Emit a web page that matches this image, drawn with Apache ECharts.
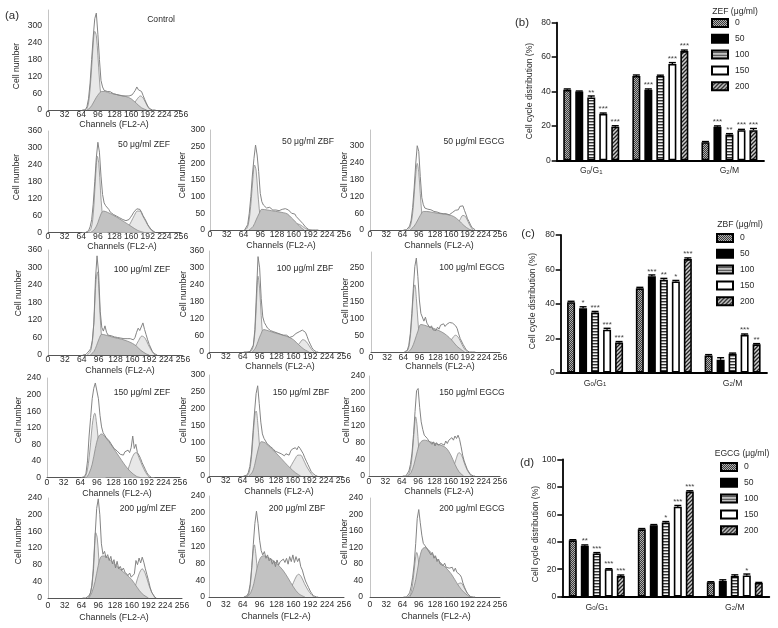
<!DOCTYPE html>
<html>
<head>
<meta charset="utf-8">
<style>
  html, body { margin: 0; padding: 0; background: #fff; }
  #chart { width: 778px; height: 628px; }
</style>
<script src="https://cdn.jsdelivr.net/npm/echarts@6/dist/echarts.min.js"></script>
</head>
<body>
<div id="chart"></div>
<script>
// channels shared by the measured outlines
const channels = [
  66, 69, 72, 75, 78, 81, 84, 87, 90, 93, 96, 99,
  102, 105, 108, 111, 114, 117, 120, 123, 126, 129, 132, 135,
  138, 141, 144, 147, 150, 153, 156, 159, 162, 165, 168, 171,
  174, 177, 180, 183, 186, 189, 192, 195, 198, 201, 204, 207
]
const channelTicks = [0, 32, 64, 96, 128, 160, 192, 224, 256]

const controlTotal = [
  0, 0, 1, 12, 40, 96, 180, 260, 325, 345, 270, 180,
  105, 82, 70, 72, 66, 62, 65, 60, 58, 60, 55, 56,
  52, 54, 50, 52, 50, 48, 50, 52, 54, 62, 70, 82,
  72, 78, 66, 52, 38, 26, 14, 6, 2, 0, 0, 0
]
const controlG1 = [[72, 0], [75, 6], [78, 25], [81, 75], [84, 150], [87, 235], [90, 280], [93, 265], [96, 195], [99, 110], [102, 45], [105, 12], [109, 0]]
const controlS = [[75, 0], [81, 8], [87, 25], [93, 45], [98, 58], [103, 66], [108, 66], [120, 60], [135, 54], [150, 48], [160, 40], [170, 24], [180, 8], [190, 0]]
const controlG2 = [[153, 0], [160, 10], [166, 24], [172, 40], [178, 50], [184, 40], [190, 18], [196, 2], [199, 0]]

const zef50Total = [
  0, 0, 0, 1, 6, 20, 45, 100, 180, 265, 320, 285,
  200, 135, 105, 95, 90, 82, 72, 70, 64, 60, 58, 56,
  52, 50, 46, 44, 42, 44, 46, 54, 62, 72, 78, 84,
  80, 82, 72, 60, 50, 40, 28, 20, 12, 6, 3, 0
]
const zef50G1 = [[76, 0], [80, 5], [83, 15], [86, 45], [89, 115], [92, 210], [95, 270], [98, 240], [101, 150], [104, 75], [107, 30], [110, 10], [115, 0]]
const zef50S = [[82, 0], [90, 12], [96, 35], [102, 66], [107, 76], [114, 72], [125, 62], [138, 48], [150, 34], [160, 22], [172, 8], [185, 0]]
const zef50G2 = [[138, 0], [146, 6], [154, 20], [160, 38], [166, 60], [172, 76], [177, 76], [182, 60], [188, 40], [194, 20], [200, 6], [206, 0]]

const zef100Total = [
  0, 0, 2, 6, 14, 22, 50, 110, 260, 340, 280, 150,
  95, 82, 100, 78, 68, 72, 66, 68, 62, 64, 60, 62,
  58, 60, 56, 54, 56, 52, 56, 50, 52, 60, 78, 92,
  84, 88, 110, 88, 70, 52, 36, 24, 12, 5, 1, 0
]
const zef100G1 = [[74, 0], [79, 8], [82, 22], [85, 60], [88, 150], [91, 255], [94, 285], [97, 205], [100, 100], [103, 38], [106, 10], [110, 0]]
const zef100S = [[80, 0], [87, 12], [92, 32], [97, 56], [102, 71], [110, 68], [125, 60], [140, 54], [150, 48], [160, 40], [168, 30], [176, 16], [186, 4], [192, 0]]
const zef100G2 = [[143, 0], [150, 4], [158, 12], [165, 28], [172, 50], [178, 65], [184, 58], [190, 36], [196, 16], [203, 0]]

const zef150Total = [
  0, 0, 2, 10, 40, 100, 145, 190, 215, 228, 232, 190,
  150, 122, 108, 104, 96, 100, 88, 82, 78, 70, 72, 64,
  60, 56, 58, 54, 62, 58, 66, 60, 72, 100, 70, 80,
  60, 54, 46, 36, 28, 20, 12, 6, 2, 0, 0, 0
]
const zef150G1 = [[72, 0], [75, 6], [78, 20], [81, 48], [84, 85], [87, 125], [90, 150], [92, 155], [95, 135], [98, 100], [101, 65], [104, 35], [108, 12], [113, 0]]
const zef150S = [[76, 0], [81, 10], [87, 32], [93, 70], [99, 98], [105, 105], [112, 98], [125, 76], [138, 52], [150, 30], [160, 15], [172, 3], [180, 0]]
const zef150G2 = [[142, 0], [150, 8], [156, 20], [162, 42], [168, 58], [172, 60], [177, 48], [183, 30], [190, 12], [197, 0]]

const zef200Total = [
  0, 0, 0, 1, 5, 12, 30, 70, 150, 215, 238, 200,
  130, 105, 112, 96, 104, 90, 100, 82, 92, 72, 88, 70,
  76, 66, 72, 62, 64, 54, 60, 50, 54, 58, 90, 80,
  96, 84, 98, 86, 70, 56, 42, 26, 14, 8, 2, 0
]
const zef200G1 = [[76, 0], [80, 8], [83, 25], [86, 65], [89, 130], [91, 157], [94, 145], [97, 95], [100, 45], [103, 15], [107, 0]]
const zef200S = [[78, 0], [84, 14], [90, 40], [96, 78], [102, 100], [108, 101], [120, 90], [135, 72], [150, 56], [160, 44], [170, 26], [180, 10], [192, 0]]
const zef200G2 = [[148, 0], [155, 5], [162, 14], [168, 34], [174, 58], [180, 70], [186, 58], [192, 34], [198, 14], [205, 0]]

const zbf50Total = [
  0, 4, 16, 50, 100, 165, 215, 255, 225, 175, 110, 85,
  75, 78, 66, 64, 68, 62, 60, 64, 60, 62, 58, 60,
  62, 56, 64, 66, 60, 62, 50, 46, 48, 40, 38, 30,
  28, 20, 14, 8, 4, 1, 0, 0, 0, 0, 0, 0
]
const zbf50G1 = [[67, 0], [70, 4], [73, 16], [76, 45], [79, 95], [82, 155], [85, 195], [88, 180], [91, 120], [94, 65], [97, 25], [100, 8], [104, 0]]
const zbf50S = [[74, 0], [82, 10], [88, 30], [94, 50], [99, 62], [110, 60], [125, 56], [140, 52], [148, 48], [156, 36], [165, 22], [172, 10], [180, 0]]
const zbf50G2 = [[138, 0], [146, 6], [154, 13], [162, 18], [168, 18], [174, 14], [180, 7], [188, 0]]

const zbf100Total = [
  0, 0, 0, 0, 2, 6, 24, 80, 210, 340, 300, 190,
  125, 105, 95, 85, 78, 76, 74, 72, 70, 68, 66, 64,
  62, 60, 58, 60, 54, 52, 50, 56, 62, 66, 70, 72,
  74, 78, 80, 70, 56, 40, 28, 16, 8, 3, 0, 0
]
const zbf100G1 = [[78, 0], [81, 6], [84, 22], [87, 70], [90, 175], [93, 270], [96, 225], [99, 130], [102, 55], [105, 18], [110, 0]]
const zbf100S = [[82, 0], [88, 14], [93, 38], [98, 62], [104, 80], [112, 76], [125, 68], [140, 60], [150, 54], [160, 44], [170, 26], [180, 10], [190, 0]]
const zbf100G2 = [[153, 0], [160, 8], [166, 20], [172, 32], [178, 44], [184, 38], [190, 22], [196, 6], [200, 0]]

const zbf150Total = [
  0, 0, 2, 10, 28, 65, 130, 190, 245, 268, 215, 160,
  125, 112, 104, 96, 100, 88, 84, 80, 74, 72, 70, 68,
  66, 64, 60, 66, 70, 62, 74, 80, 76, 84, 78, 88,
  82, 86, 66, 54, 44, 34, 24, 14, 8, 3, 1, 0
]
const zbf150G1 = [[72, 0], [76, 8], [79, 28], [82, 70], [85, 135], [88, 185], [90, 193], [93, 160], [96, 100], [99, 50], [102, 20], [106, 0]]
const zbf150S = [[76, 0], [83, 12], [88, 38], [94, 80], [100, 102], [108, 98], [120, 80], [132, 62], [145, 40], [155, 24], [165, 10], [175, 0]]
const zbf150G2 = [[138, 0], [146, 6], [152, 18], [158, 34], [164, 50], [170, 62], [175, 62], [180, 50], [186, 30], [193, 12], [199, 0]]

const zbf200Total = [
  0, 0, 3, 10, 30, 70, 125, 175, 204, 175, 135, 110,
  100, 108, 92, 100, 86, 92, 78, 86, 72, 88, 76, 84,
  80, 90, 82, 92, 78, 96, 84, 100, 82, 96, 84, 92,
  72, 64, 50, 38, 30, 22, 14, 8, 3, 0, 0, 0
]
const zbf200G1 = [[70, 0], [74, 4], [77, 16], [80, 50], [83, 100], [86, 124], [89, 100], [92, 58], [95, 24], [98, 8], [102, 0]]
const zbf200S = [[72, 0], [79, 10], [85, 32], [91, 68], [97, 92], [103, 98], [115, 92], [128, 80], [140, 64], [150, 45], [160, 24], [170, 8], [182, 0]]
const zbf200G2 = [[140, 0], [147, 6], [154, 18], [160, 34], [166, 50], [170, 54], [175, 48], [181, 32], [188, 16], [194, 6], [199, 0]]

const egcg50Total = [
  0, 0, 1, 4, 14, 35, 80, 150, 235, 300, 280, 190,
  115, 90, 78, 80, 74, 70, 72, 68, 66, 68, 64, 62,
  60, 62, 58, 56, 58, 56, 54, 56, 62, 60, 70, 76,
  72, 84, 80, 86, 70, 56, 40, 30, 18, 8, 3, 1
]
const egcg50G1 = [[74, 0], [78, 8], [81, 25], [84, 60], [87, 125], [90, 195], [93, 237], [96, 205], [99, 130], [102, 60], [105, 22], [109, 5], [113, 0]]
const egcg50S = [[79, 0], [87, 14], [93, 32], [99, 52], [105, 66], [112, 66], [125, 62], [140, 58], [155, 54], [165, 48], [175, 34], [185, 16], [195, 3], [200, 0]]
const egcg50G2 = [[158, 0], [165, 6], [171, 18], [177, 36], [183, 52], [188, 48], [193, 30], [198, 12], [203, 0]]

const egcg100Total = [
  0, 0, 5, 20, 55, 115, 190, 255, 280, 225, 155, 115,
  110, 92, 104, 86, 82, 72, 78, 66, 70, 64, 74, 68,
  80, 78, 84, 76, 82, 80, 88, 84, 86, 90, 78, 70,
  54, 40, 36, 22, 14, 6, 2, 0, 0, 0, 0, 0
]
const egcg100G1 = [[70, 0], [73, 6], [76, 22], [79, 60], [82, 125], [85, 190], [87, 200], [90, 160], [93, 95], [96, 45], [99, 15], [103, 0]]
const egcg100S = [[74, 0], [81, 12], [87, 35], [93, 62], [99, 82], [110, 78], [125, 70], [140, 60], [150, 50], [160, 36], [170, 18], [180, 6], [186, 0]]
const egcg100G2 = [[137, 0], [145, 6], [152, 16], [158, 32], [164, 46], [168, 50], [174, 42], [180, 24], [186, 8], [192, 0]]

const egcg150Total = [
  0, 0, 0, 3, 12, 28, 55, 100, 155, 205, 210, 165,
  130, 112, 98, 94, 90, 84, 88, 76, 82, 72, 80, 74,
  70, 78, 80, 74, 84, 78, 86, 82, 92, 86, 96, 90,
  98, 88, 70, 50, 36, 26, 16, 10, 4, 1, 0, 0
]
const egcg150G1 = [[74, 0], [78, 6], [81, 18], [84, 45], [87, 90], [90, 135], [91, 142], [94, 120], [97, 70], [100, 30], [103, 10], [107, 0]]
const egcg150S = [[76, 0], [82, 8], [88, 28], [94, 58], [100, 80], [108, 86], [120, 82], [135, 76], [150, 68], [160, 50], [168, 28], [176, 10], [185, 0]]
const egcg150G2 = [[150, 0], [158, 6], [164, 18], [170, 40], [176, 56], [181, 50], [186, 32], [192, 14], [200, 0]]

const egcg200Total = [
  0, 0, 0, 3, 10, 25, 48, 80, 130, 190, 212, 180,
  150, 130, 125, 128, 114, 118, 102, 108, 94, 100, 86, 92,
  80, 84, 76, 82, 72, 76, 70, 66, 72, 62, 70, 60,
  64, 54, 48, 34, 24, 16, 8, 4, 1, 0, 0, 0
]
const egcg200G1 = [[74, 0], [78, 4], [81, 12], [84, 32], [87, 65], [90, 98], [92, 108], [95, 92], [98, 55], [101, 22], [104, 6], [108, 0]]
const egcg200S = [[78, 0], [84, 14], [90, 42], [96, 84], [102, 114], [108, 120], [120, 108], [135, 88], [150, 70], [160, 56], [170, 36], [180, 18], [192, 4], [198, 0]]
const egcg200G2 = [[147, 0], [155, 4], [162, 12], [168, 24], [174, 32], [179, 34], [184, 26], [190, 12], [199, 0]]

// bar panels, one row per dose, one column per cycle phase
const phases = ['G{sub|0}/G{sub|1}', 'S', 'G{sub|2}/M']
const doses = ['0', '50', '100', '150', '200']

const zefBars = [[41, 49, 10.5], [40, 41, 19.5], [36.5, 49, 15], [27, 56, 17.5], [19.5, 63.5, 17.5]]
const zefErrors = [[0.5, 0.6, 0.4], [0.3, 0.5, 0.5], [0.9, 0.5, 0.5], [0.5, 0.8, 0.5], [0.6, 0.6, 1]]
const zefStars = [['', '', ''], ['', '***', '***'], ['**', '', '**'], ['***', '***', '***'], ['***', '***', '***']]

const zbfBars = [[41, 49, 10], [37.5, 56, 7.5], [35, 54, 11], [25, 53, 22], [17.5, 66, 16.5]]
const zbfErrors = [[0.5, 0.6, 0.5], [0.8, 0.8, 1.2], [0.6, 0.8, 0.4], [0.8, 0.6, 0.5], [0.6, 0.7, 0.4]]
const zbfStars = [['', '', ''], ['*', '***', ''], ['***', '**', ''], ['***', '*', '***'], ['***', '***', '**']]

const egcgBars = [[41, 49, 10.5], [37, 52, 11.5], [31.5, 54, 15], [20, 65.5, 15.5], [15, 76.5, 10]]
const egcgErrors = [[0.5, 0.6, 0.4], [0.7, 0.5, 0.8], [0.6, 0.7, 0.9], [0.4, 0.9, 1], [0.8, 0.6, 0.4]]
const egcgStars = [['', '', ''], ['**', '', ''], ['***', '*', ''], ['***', '***', '*'], ['***', '***', '']]

// layout of the histograms: plot box, tick label gaps, then the three text anchors
const histPanels = [
  { text: 'Control', total: controlTotal, g1: controlG1, s: controlS, g2: controlG2, box: [48, 181, 10, 110], ymax: 356, step: 60, tickY: 115, yGap: 6, textAt: [161, 20], nameAt: [114, 125], cellAt: [17, 66] },
  { text: '50 μg/ml ZEF', total: zef50Total, g1: zef50G1, s: zef50S, g2: zef50G2, box: [48, 181, 131, 232.5], ymax: 360, step: 60, tickY: 237, yGap: 6, textAt: [144, 145], nameAt: [122, 247], cellAt: [17, 177] },
  { text: '100 μg/ml ZEF', total: zef100Total, g1: zef100G1, s: zef100S, g2: zef100G2, box: [48, 183, 250, 355], ymax: 360, step: 60, tickY: 360, yGap: 6, textAt: [142, 270], nameAt: [120, 371], cellAt: [19, 293] },
  { text: '150 μg/ml ZEF', total: zef150Total, g1: zef150G1, s: zef150S, g2: zef150G2, box: [47, 180, 378, 477.5], ymax: 240, step: 40, tickY: 483, yGap: 6, textAt: [142, 393], nameAt: [117, 494], cellAt: [19, 420] },
  { text: '200 μg/ml ZEF', total: zef200Total, g1: zef200G1, s: zef200S, g2: zef200G2, box: [48, 182, 498, 598], ymax: 240, step: 40, tickY: 606, yGap: 6, textAt: [148, 509], nameAt: [114, 618], cellAt: [19, 541] },
  { text: '50 μg/ml ZBF', total: zbf50Total, g1: zbf50G1, s: zbf50S, g2: zbf50G2, box: [210, 344, 130, 230], ymax: 300, step: 50, tickY: 235, yGap: 5, textAt: [308, 142], nameAt: [281, 246], cellAt: [183, 175] },
  { text: '100 μg/ml ZBF', total: zbf100Total, g1: zbf100G1, s: zbf100S, g2: zbf100G2, box: [209, 344, 251, 352], ymax: 360, step: 60, tickY: 357, yGap: 5, textAt: [305, 269], nameAt: [280, 367], cellAt: [184, 294] },
  { text: '150 μg/ml ZBF', total: zbf150Total, g1: zbf150G1, s: zbf150S, g2: zbf150G2, box: [209, 343, 375, 476], ymax: 300, step: 50, tickY: 481, yGap: 4, textAt: [301, 393], nameAt: [279, 492], cellAt: [184, 420] },
  { text: '200 μg/ml ZBF', total: zbf200Total, g1: zbf200G1, s: zbf200S, g2: zbf200G2, box: [209, 344, 496, 597], ymax: 240, step: 40, tickY: 605, yGap: 4, textAt: [297, 509], nameAt: [276, 617], cellAt: [183, 541] },
  { text: '50 μg/ml EGCG', total: egcg50Total, g1: egcg50G1, s: egcg50S, g2: egcg50G2, box: [370, 500, 130, 230], ymax: 356, step: 60, tickY: 235, yGap: 6, textAt: [474, 142], nameAt: [439, 246], cellAt: [345, 175] },
  { text: '100 μg/ml EGCG', total: egcg100Total, g1: egcg100G1, s: egcg100S, g2: egcg100G2, box: [371, 500, 252, 352], ymax: 298, step: 50, tickY: 358, yGap: 7, textAt: [472, 268], nameAt: [440, 367], cellAt: [346, 301] },
  { text: '150 μg/ml EGCG', total: egcg150Total, g1: egcg150G1, s: egcg150S, g2: egcg150G2, box: [369, 500, 376, 476], ymax: 240, step: 40, tickY: 482, yGap: 4, textAt: [472, 393], nameAt: [439, 492], cellAt: [347, 420] },
  { text: '200 μg/ml EGCG', total: egcg200Total, g1: egcg200G1, s: egcg200S, g2: egcg200G2, box: [370, 500, 498, 597], ymax: 240, step: 40, tickY: 605, yGap: 7, textAt: [472, 509], nameAt: [436, 617], cellAt: [345, 542] }
]

const barPanels = [
  { tag: '(b)', title: 'ZEF (μg/ml)', bars: zefBars, errors: zefErrors, stars: zefStars, box: [556.7, 764, 22.7, 160.3], ymax: 80, tagAt: [522, 23], titleAt: [735, 12], cellAt: [530, 91], legendAt: [711, 18] },
  { tag: '(c)', title: 'ZBF (μg/ml)', bars: zbfBars, errors: zbfErrors, stars: zbfStars, box: [560.7, 767, 235, 372.7], ymax: 80, tagAt: [528, 234], titleAt: [740, 225], cellAt: [533, 301], legendAt: [716, 233] },
  { tag: '(d)', title: 'EGCG (μg/ml)', bars: egcgBars, errors: egcgErrors, stars: egcgStars, box: [562.3, 769.3, 459.3, 596.7], ymax: 100, tagAt: [527, 463], titleAt: [742, 454], cellAt: [536, 534], legendAt: [720, 462] }
]

const FONT = 'Liberation Sans'
const INK = '#2b2b2b'

function tile(w, h, draw) {
  const c = document.createElement('canvas')
  c.width = w
  c.height = h
  draw(c.getContext('2d'))
  return { image: c, repeat: 'repeat' }
}

const barFills = [
  // dotted grey
  tile(2, 2, g => {
    g.fillStyle = '#3a3a3a'
    g.fillRect(0, 0, 2, 2)
    g.fillStyle = '#b0b0b0'
    g.fillRect(0, 0, 1, 1)
    g.fillRect(1, 1, 1, 1)
  }),
  '#000',
  // horizontal stripes
  tile(4, 3, g => {
    g.fillStyle = '#f4f4f4'
    g.fillRect(0, 0, 4, 3)
    g.fillStyle = '#333'
    g.fillRect(0, 1, 4, 1.4)
  }),
  '#fff',
  // diagonal hatch
  tile(4, 4, g => {
    g.fillStyle = '#cfcfcf'
    g.fillRect(0, 0, 4, 4)
    g.strokeStyle = '#222'
    g.lineWidth = 1.3
    g.beginPath()
    g.moveTo(-1, 5)
    g.lineTo(5, -1)
    g.moveTo(-1, 1)
    g.lineTo(1, -1)
    g.moveTo(3, 5)
    g.lineTo(5, 3)
    g.stroke()
  })
]

const grid = []
const xAxis = []
const yAxis = []
const series = []
const legend = []
const labels = []

function label(text, at, size, rotated) {
  labels.push({
    type: 'text',
    x: at[0],
    y: at[1],
    rotation: rotated ? Math.PI / 2 : 0,
    silent: true,
    style: { text, fontFamily: FONT, fontSize: size, fill: INK, textAlign: 'center', textVerticalAlign: 'middle' }
  })
}

function addGrid(box) {
  grid.push({ left: box[0], width: box[1] - box[0], top: box[2], height: box[3] - box[2] })
  return grid.length - 1
}

function areaLine(idx, data, fill, z) {
  return {
    type: 'line',
    xAxisIndex: idx,
    yAxisIndex: idx,
    data,
    smooth: 0.35,
    showSymbol: false,
    silent: true,
    z,
    lineStyle: { color: '#8a8a8a', width: 0.8 },
    areaStyle: { color: fill, opacity: 1 }
  }
}

histPanels.forEach(p => {
  const idx = addGrid(p.box)
  xAxis.push({
    type: 'value',
    gridIndex: idx,
    min: channelTicks[0],
    max: channelTicks[channelTicks.length - 1],
    interval: channelTicks[1] - channelTicks[0],
    splitLine: { show: false },
    axisTick: { show: false },
    axisLine: { lineStyle: { color: '#555', width: 1 } },
    axisLabel: { fontFamily: FONT, fontSize: 8.6, color: INK, margin: Math.max(p.tickY - p.box[3] - 5, 0) }
  })
  yAxis.push({
    type: 'value',
    gridIndex: idx,
    min: 0,
    max: p.ymax,
    interval: p.step,
    splitLine: { show: false },
    axisTick: { show: false },
    axisLine: { show: true, lineStyle: { color: '#c4c4c4', width: 1 } },
    axisLabel: { fontFamily: FONT, fontSize: 8.6, color: INK, margin: p.yGap, showMaxLabel: p.ymax % p.step === 0 }
  })
  series.push(areaLine(idx, p.g1, '#e8e8e8', 2))
  series.push(areaLine(idx, p.g2, '#e8e8e8', 2))
  series.push(areaLine(idx, p.s, '#c2c2c2', 3))
  series.push({
    type: 'line',
    xAxisIndex: idx,
    yAxisIndex: idx,
    data: channels.map((c, i) => [c, p.total[i]]),
    showSymbol: false,
    silent: true,
    z: 4,
    lineStyle: { color: '#848484', width: 1 }
  })
  label(p.text, p.textAt, 8.6)
  label('Channels (FL2-A)', p.nameAt, 8.8)
  label('Cell number', p.cellAt, 8.6, true)
})

function drawError(params, api) {
  const layout = api.barLayout({ barWidth: 8, barGap: '50%', count: doses.length })
  const x = api.coord([api.value(0), 0])[0] + layout[api.value(1)].offsetCenter
  const base = api.coord([api.value(0), api.value(2)])[1]
  const top = api.coord([api.value(0), api.value(2) + api.value(3)])[1]
  const style = { stroke: '#000', lineWidth: 1.4 }
  return {
    type: 'group',
    children: [
      { type: 'line', shape: { x1: x, y1: base, x2: x, y2: top }, style },
      { type: 'line', shape: { x1: x - 3.5, y1: top, x2: x + 3.5, y2: top }, style }
    ]
  }
}

barPanels.forEach(p => {
  const idx = addGrid(p.box)
  xAxis.push({
    type: 'category',
    gridIndex: idx,
    data: phases,
    axisTick: { alignWithLabel: true, length: 3, lineStyle: { color: '#000', width: 1 } },
    axisLine: { lineStyle: { color: '#000', width: 1.8 } },
    axisLabel: {
      fontFamily: FONT,
      fontSize: 8.6,
      color: INK,
      margin: 6,
      rich: { sub: { fontFamily: FONT, fontSize: 6, color: INK, verticalAlign: 'bottom', padding: [3, 0, 0, 0] } }
    }
  })
  yAxis.push({
    type: 'value',
    gridIndex: idx,
    min: 0,
    max: p.ymax,
    interval: 20,
    splitLine: { show: false },
    axisTick: { show: true, length: 5, lineStyle: { color: '#000', width: 1.5 } },
    axisLine: { show: true, lineStyle: { color: '#000', width: 1.8 } },
    axisLabel: { fontFamily: FONT, fontSize: 8.6, color: INK, margin: 6 }
  })
  doses.forEach((dose, d) => {
    series.push({
      type: 'bar',
      name: dose,
      xAxisIndex: idx,
      yAxisIndex: idx,
      barWidth: 8,
      barGap: '50%',
      silent: true,
      itemStyle: { color: barFills[d], borderColor: '#000', borderWidth: 1.6 },
      data: p.bars[d],
      label: {
        show: true,
        position: 'top',
        distance: 1,
        fontFamily: FONT,
        fontSize: 8,
        color: '#444',
        formatter: item => p.stars[d][item.dataIndex]
      }
    })
  })
  series.push({
    type: 'custom',
    xAxisIndex: idx,
    yAxisIndex: idx,
    silent: true,
    z: 5,
    encode: { x: 0, y: 2 },
    renderItem: drawError,
    data: p.bars.flatMap((row, d) => row.map((v, c) => [c, d, v, p.errors[d][c]]))
  })
  legend.push({
    data: doses,
    orient: 'vertical',
    icon: 'rect',
    left: p.legendAt[0],
    top: p.legendAt[1],
    padding: 0,
    itemWidth: 16,
    itemHeight: 8,
    itemGap: 5.8,
    selectedMode: false,
    textStyle: { fontFamily: FONT, fontSize: 8.6, color: INK, lineHeight: 10, padding: [0, 0, 0, 2] }
  })
  label(p.tag, p.tagAt, 11.5)
  label(p.title, p.titleAt, 8.6)
  label('Cell cycle distribution (%)', p.cellAt, 8.6, true)
})

label('(a)', [12, 16], 11.5)

const chart = echarts.init(document.getElementById('chart'))
chart.setOption({
  animation: false,
  backgroundColor: '#fff',
  tooltip: { show: false },
  grid,
  xAxis,
  yAxis,
  legend,
  series,
  graphic: { elements: labels }
})
</script>
</body>
</html>
